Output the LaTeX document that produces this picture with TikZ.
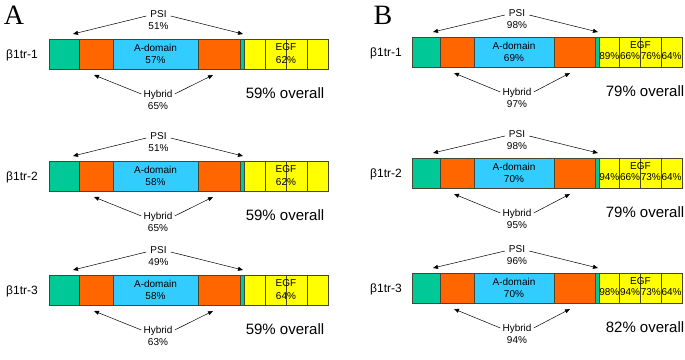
\documentclass[tikz,border=0pt]{standalone}
\usepackage{fontspec}
\setmainfont{Liberation Sans}
\newfontfamily\panelfont{Liberation Serif}
\usetikzlibrary{arrows.meta}
\definecolor{cgreen}{RGB}{0,200,150}
\definecolor{corange}{RGB}{255,102,0}
\definecolor{cblue}{RGB}{51,204,255}
\definecolor{cyellow}{RGB}{255,255,0}
\definecolor{segline}{RGB}{70,70,50}
\tikzset{
  seg/.style={draw=segline, line width=0.6pt, minimum height=30pt, inner sep=0pt, outer sep=0pt, anchor=north west},
  lbl/.style={font=\fontsize{10}{12}\selectfont, align=center, inner sep=2pt},
  pct/.style={font=\fontsize{10}{12}\selectfont, inner sep=0pt},
  rowlbl/.style={font=\fontsize{12}{14}\selectfont, inner sep=0pt},
  overall/.style={font=\fontsize{15}{18}\selectfont, inner sep=0pt},
  panel/.style={font=\panelfont\fontsize{28}{30}\selectfont, inner sep=0pt},
  arr/.style={-{Triangle[length=5pt,width=4pt]}, line width=0.5pt},
}
\begin{document}
\begin{tikzpicture}[x=1pt,y=-1pt]
\useasboundingbox[fill=white] (0,0) rectangle (685,359);
\node[panel] (pA) at (14,15) {A};
\node[panel] (pB) at (383,15) {B};
% ---------- Panel A ----------
\foreach \n/\y/\ad/\egf/\psi/\hy/\ov in {1/39/57/62/51/65/59, 2/161/58/62/51/65/59, 3/275/58/64/49/63/59} {
  \node[seg, fill=cgreen, minimum width=30] (A\n-g) at (49,\y) {};
  \node[seg, fill=corange, minimum width=34] (A\n-o1) at (A\n-g.north east) {};
  \node[seg, fill=cblue, minimum width=85, font=\fontsize{10}{12.5}\selectfont, align=center] (A\n-b) at (A\n-o1.north east) {A-domain\\\ad\%};
  \node[seg, fill=corange, minimum width=42] (A\n-o2) at (A\n-b.north east) {};
  \node[seg, fill=cgreen, minimum width=4] (A\n-t) at (A\n-o2.north east) {};
  \node[seg, fill=cyellow, minimum width=21] (A\n-e1) at (A\n-t.north east) {};
  \node[seg, fill=cyellow, minimum width=21] (A\n-e2) at (A\n-e1.north east) {};
  \node[seg, fill=cyellow, minimum width=21] (A\n-e3) at (A\n-e2.north east) {};
  \node[seg, fill=cyellow, minimum width=21] (A\n-e4) at (A\n-e3.north east) {};
  \node[lbl, font=\fontsize{10}{12.5}\selectfont] (A\n-egf) at ([yshift=0.5pt]A\n-e2.east) {EGF\\\egf\%};
  \node[rowlbl] (A\n-lab) at (22,\y+16) {β1tr-\n};
  \node[lbl] (A\n-psi) at (158.5,\y-19) {PSI\\\psi\%};
  \coordinate (A\n-pl) at (73,\y-5);
  \coordinate (A\n-pr) at (243,\y-5);
  \draw[arr] ([yshift=4pt]A\n-psi.west) -- (A\n-pl);
  \draw[arr] ([yshift=4pt]A\n-psi.east) -- (A\n-pr);
  \node[lbl] (A\n-hy) at (158,\y+61) {Hybrid\\\hy\%};
  \coordinate (A\n-hl) at (94,\y+36);
  \coordinate (A\n-hr) at (213,\y+36);
  \draw[arr] ([yshift=6pt]A\n-hy.west) -- (A\n-hl);
  \draw[arr] ([yshift=6pt]A\n-hy.east) -- (A\n-hr);
  \node[overall] (A\n-ov) at (285,\y+54) {\ov\% overall};
}
% ---------- Panel B ----------
\foreach \n/\y/\ad/\pa/\pb/\pc/\pd/\psi/\hy/\ov in {1/37/69/89/66/76/64/98/97/79, 2/158/70/94/66/73/64/98/95/79, 3/273/70/98/94/73/64/96/94/82} {
  \node[seg, fill=cgreen, minimum width=28] (B\n-g) at (412,\y) {};
  \node[seg, fill=corange, minimum width=34] (B\n-o1) at (B\n-g.north east) {};
  \node[seg, fill=cblue, minimum width=80, font=\fontsize{10}{12.5}\selectfont, align=center] (B\n-b) at (B\n-o1.north east) {A-domain\\\ad\%};
  \node[seg, fill=corange, minimum width=41] (B\n-o2) at (B\n-b.north east) {};
  \node[seg, fill=cgreen, minimum width=4] (B\n-t) at (B\n-o2.north east) {};
  \node[seg, fill=cyellow, minimum width=20.75] (B\n-e1) at (B\n-t.north east) {};
  \node[seg, fill=cyellow, minimum width=20.75] (B\n-e2) at (B\n-e1.north east) {};
  \node[seg, fill=cyellow, minimum width=20.75] (B\n-e3) at (B\n-e2.north east) {};
  \node[seg, fill=cyellow, minimum width=20.75] (B\n-e4) at (B\n-e3.north east) {};
  \node[pct] (B\n-egf) at ([yshift=-8pt]B\n-e2.north east) {EGF};
  \node[pct] (B\n-p1) at ([yshift=-4pt]B\n-e1.center) {\pa\%};
  \node[pct] (B\n-p2) at ([yshift=-4pt]B\n-e2.center) {\pb\%};
  \node[pct] (B\n-p3) at ([yshift=-4pt]B\n-e3.center) {\pc\%};
  \node[pct] (B\n-p4) at ([yshift=-4pt]B\n-e4.center) {\pd\%};
  \node[rowlbl] (B\n-lab) at (386,\y+16) {β1tr-\n};
  \node[lbl] (B\n-psi) at (517,\y-18) {PSI\\\psi\%};
  \coordinate (B\n-pl) at (433,\y-5);
  \coordinate (B\n-pr) at (598,\y-5);
  \draw[arr] ([yshift=4pt]B\n-psi.west) -- (B\n-pl);
  \draw[arr] ([yshift=4pt]B\n-psi.east) -- (B\n-pr);
  \node[lbl] (B\n-hy) at (517,\y+61) {Hybrid\\\hy\%};
  \coordinate (B\n-hl) at (454,\y+36);
  \coordinate (B\n-hr) at (570,\y+36);
  \draw[arr] ([yshift=6pt]B\n-hy.west) -- (B\n-hl);
  \draw[arr] ([yshift=6pt]B\n-hy.east) -- (B\n-hr);
  \node[overall] (B\n-ov) at (645,\y+54) {\ov\% overall};
}
\end{tikzpicture}
\end{document}
